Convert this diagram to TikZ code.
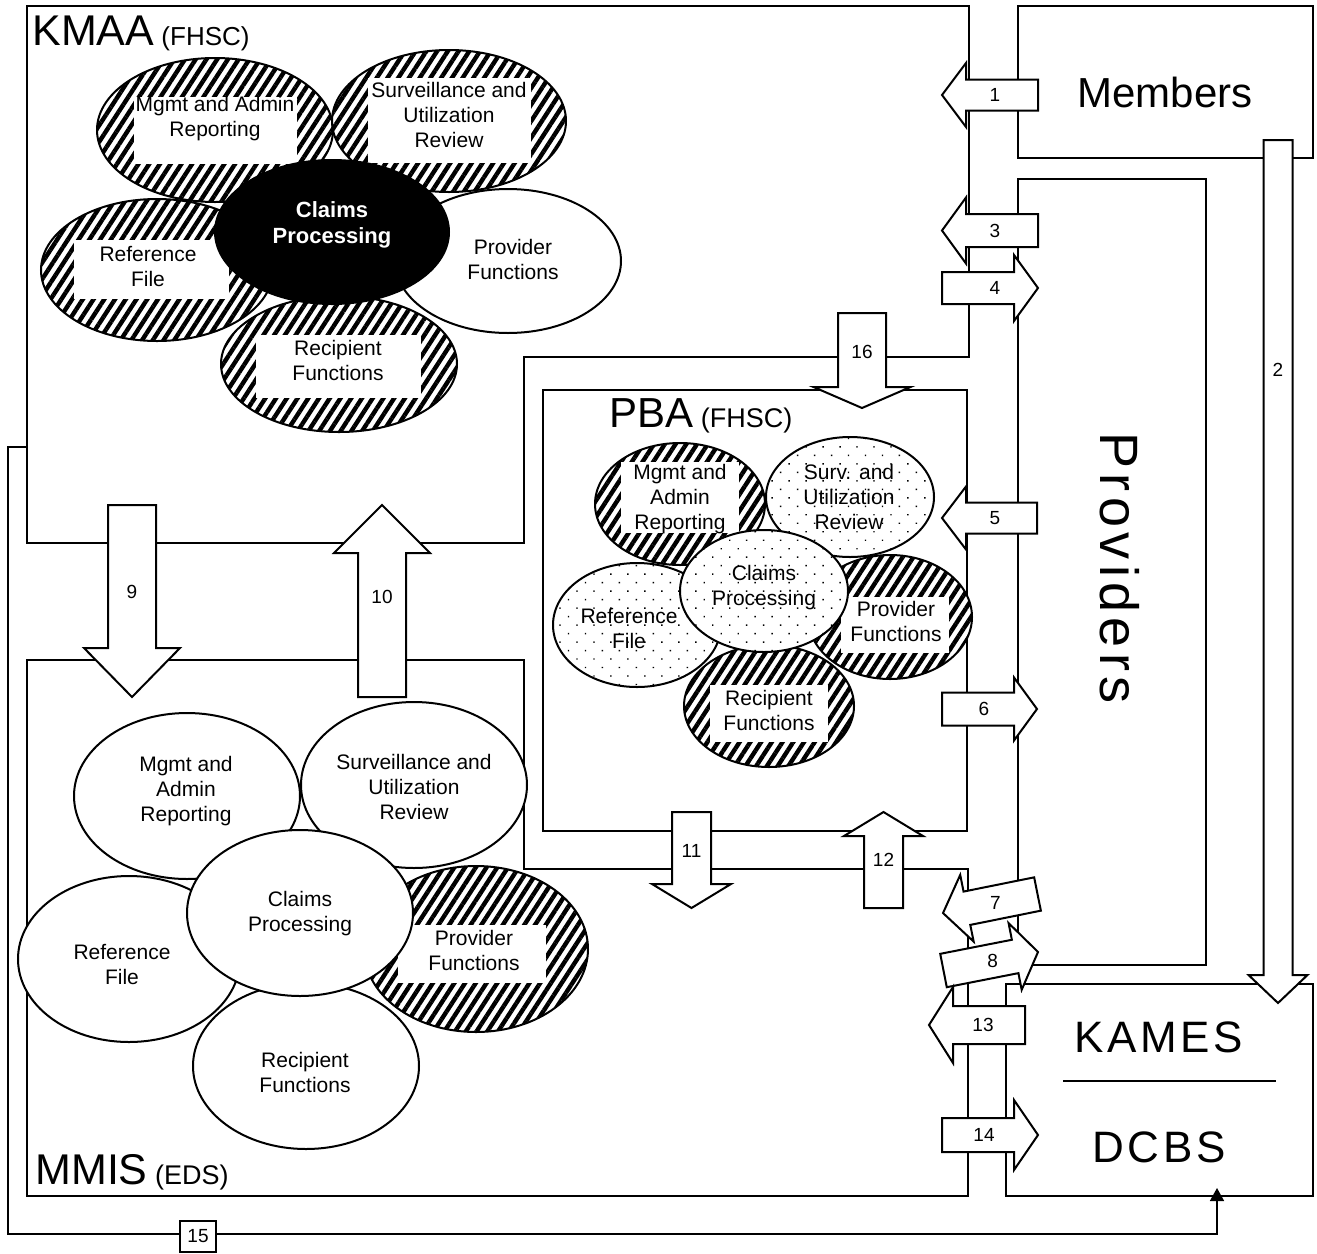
\documentclass[tikz,border=0pt]{standalone}
\usepackage{fontspec}
\setmainfont{Liberation Sans}
\newfontfamily\spacedten[LetterSpace=10]{Liberation Sans}
\newfontfamily\spacedeight[LetterSpace=8]{Liberation Sans}
\usetikzlibrary{shapes.geometric, patterns.meta, arrows.meta}

% #1 name, #2 tail point, #3 angle, #4 length, #5 shaft half width,
% #6 head half width, #7 head length, #8 label distance from tail, #9 label
\newcommand\blockarrow[9]{%
  \begin{scope}[shift={#2}, rotate=#3]
    \draw[barrow] (0,-#5) -- ({#4-#7},-#5) -- ({#4-#7},-#6) -- (#4,0) -- ({#4-#7},#6) -- ({#4-#7},#5) -- (0,#5) -- cycle;
    \node[numtxt] (#1) at (#8,0) {#9};
  \end{scope}}

\tikzset{
  outline/.style={draw, line width=1pt, line join=miter},
  rectbox/.style 2 args={draw, line width=1pt, inner sep=0pt, outer sep=0pt, minimum width=#1pt, minimum height=#2pt},
  barrow/.style={draw, fill=white, line width=1pt, line join=miter},
  numtxt/.style={font=\fontsize{9.5}{11}\selectfont, inner sep=0pt},
  ell/.style 2 args={ellipse, draw, line width=1pt, minimum width=#1pt, minimum height=#2pt, inner sep=0pt, outer sep=0pt},
  hatch/.style={preaction={fill=white}, pattern={Lines[angle=57,distance=4.5pt,line width=2.2pt]}},
  dotfill/.style={preaction={fill=white}, pattern={Dots[radius=0.5pt,distance=6pt,angle=45]}},
  plainfill/.style={fill=white},
  blackfill/.style={fill=black},
  wbox/.style 2 args={fill=white, inner sep=0pt, minimum width=#1pt, minimum height=#2pt},
  etxt/.style={align=center, font=\fontsize{10.5}{12.5}\selectfont, inner sep=0pt},
  conn/.style={draw, line width=0.8pt},
}

\begin{document}
\begin{tikzpicture}[x=0.5pt, y=-0.5pt]
\useasboundingbox (0,0) rectangle (1317,1253);

% ---------- outer region outlines ----------
\draw[outline] (27,6) -- (969,6) -- (969,357) -- (524,357) -- (524,543) -- (27,543) -- cycle; % KMAA
\draw[outline] (27,660) -- (524,660) -- (524,869) -- (968,869) -- (968,1196) -- (27,1196) -- cycle; % MMIS
\node[rectbox={212}{220.5}] (pba) at (755,610.5) {};
\node[rectbox={147.5}{76}] (members) at (1165.5,82) {};
\node[rectbox={94}{393}] (providers) at (1112,572) {};
\node[rectbox={153.5}{106}] (kames) at (1159.5,1090) {};
\coordinate (sepl) at (1063,1081);
\coordinate (sepr) at (1276,1081);
\draw[outline] (sepl) -- (sepr);

% ---------- connector 15 ----------
\coordinate (k15) at (27,447);
\coordinate (d15) at (1217,1188);
\draw[conn, -{Triangle[width=7pt,length=6.5pt]}] (k15) -- (8,447) -- (8,1234) -- (1217,1234) -- (d15);
\node[draw, fill=white, line width=0.8pt, minimum width=18pt, minimum height=15.5pt, inner sep=0pt, numtxt] (n15) at (198,1236.5) {15};

% ---------- KMAA flower ----------
\node[ell={118}{72}, hatch] (kmgmt) at (215,130) {};
\node[wbox={81.5}{33.5}] (kmgmtb) at (215.5,130.5) {};
\node[etxt] (kmgmtt) at (215,119) {Mgmt and Admin\\Reporting};
\node[ell={117}{71}, hatch] (ksurv) at (449,121) {};
\node[wbox={81.5}{42.5}] (ksurvb) at (449.5,120.5) {};
\node[etxt] (ksurvt) at (449,115) {Surveillance and\\Utilization\\Review};
\node[ell={116}{71}, hatch] (kref) at (157,270) {};
\node[wbox={77.5}{29.5}] (krefb) at (151.5,269.5) {};
\node[etxt] (kreft) at (148,266) {Reference\\File};
\node[ell={118}{68}, hatch] (krec) at (339,364) {};
\node[wbox={82.5}{31.5}] (krecb) at (338.5,366.5) {};
\node[etxt] (krect) at (338,360) {Recipient\\Functions};
\node[ell={113}{72}, plainfill] (kprov) at (508,261) {};
\node[etxt] (kprovt) at (513,259) {Provider\\Functions};
\node[ell={117}{72}, blackfill] (kclaims) at (332,232) {};
\node[etxt, text=white, font=\bfseries\fontsize{11}{13}\selectfont] (kclaimst) at (332,225) {Claims\\Processing};

% ---------- PBA flower ----------
\node[ell={85}{61}, hatch] (pmgmt) at (680,504) {};
\node[wbox={59}{35.5}] (pmgmtb) at (680,497.5) {};
\node[etxt] (pmgmtt) at (680,499) {Mgmt and\\Admin\\Reporting};
\node[ell={84}{60}, dotfill] (psurv) at (850,497) {};
\node[etxt] (psurvt) at (849,497) {Surv. and\\Utilization\\Review};
\node[ell={84}{62}, dotfill] (pref) at (637,625) {};
\node[etxt] (preft) at (629,628) {Reference\\File};
\node[ell={82}{62}, hatch] (pprov) at (890,617) {};
\node[wbox={54}{28}] (pprovb) at (895,625) {};
\node[etxt] (pprovt) at (896,621) {Provider\\Functions};
\node[ell={85}{61}, hatch] (prec) at (769,706) {};
\node[wbox={59}{28.5}] (precb) at (769,713.5) {};
\node[etxt] (prect) at (769,710) {Recipient\\Functions};
\node[ell={84}{61}, dotfill] (pclaims) at (764,591) {};
\node[etxt] (pclaimst) at (764,588) {Claims\\Processing};

% ---------- MMIS flower ----------
\node[ell={112}{83}, hatch] (mprov) at (476,949) {};
\node[wbox={74}{29}] (mprovb) at (472,954) {};
\node[etxt] (mprovt) at (474,950) {Provider\\Functions};
\node[ell={113}{83}, plainfill] (mmgmt) at (187,796) {};
\node[etxt] (mmgmtt) at (186,791) {Mgmt and\\Admin\\Reporting};
\node[ell={113}{83}, plainfill] (msurv) at (414,785) {};
\node[etxt] (msurvt) at (414,787) {Surveillance and\\Utilization\\Review};
\node[ell={111}{83}, plainfill] (mref) at (129,959) {};
\node[etxt] (mreft) at (122,964) {Reference\\File};
\node[ell={113}{83}, plainfill] (mrec) at (306,1066) {};
\node[etxt] (mrect) at (305,1072) {Recipient\\Functions};
\node[ell={113}{83}, plainfill] (mclaims) at (300,913) {};
\node[etxt] (mclaimst) at (300,914) {Claims\\Processing};

% ---------- block arrows ----------
\blockarrow{a1}{(1038,95)}{180}{96}{15.5}{32}{24}{43}{1}
\blockarrow{a2}{(1278,140)}{-90}{863}{14.5}{29.5}{28}{230}{2}
\blockarrow{a3}{(1038,230.5)}{180}{96}{16.5}{33}{24}{43}{3}
\blockarrow{a4}{(942,288)}{0}{96}{16}{33}{24}{53}{4}
\blockarrow{a5}{(1037,518)}{180}{95}{15.5}{31.5}{24}{42}{5}
\blockarrow{a6}{(942,709)}{0}{95}{16.5}{31.5}{23}{42}{6}
\blockarrow{a7}{(1037.5,894)}{191.4}{96.4}{17}{34}{24.4}{43}{7}
\blockarrow{a8}{(943.5,970.5)}{11.1}{96.3}{17}{34}{23.3}{50}{8}
\blockarrow{a9}{(132,505)}{-90}{192}{24}{48}{49}{87}{9}
\blockarrow{a10}{(382,697)}{90}{192}{24}{48}{48}{100}{10}
\blockarrow{a11}{(691.5,812)}{-90}{96}{19.5}{39.5}{24}{39}{11}
\blockarrow{a12}{(883.5,908)}{90}{96}{19.5}{39.5}{24}{48}{12}
\blockarrow{a13}{(1025,1025)}{180}{96}{19}{38}{24}{42}{13}
\blockarrow{a14}{(942,1135)}{0}{96}{17}{35}{24}{42}{14}
\blockarrow{a16}{(862,313)}{-90}{95}{24}{48.5}{21}{39}{16}

% ---------- titles ----------
\node[anchor=base west, inner sep=0pt] (kmaat) at (32,45) {\fontsize{21.5}{24}\selectfont KMAA{\fontsize{13}{15}\selectfont\ (FHSC)}};
\node[anchor=base west, inner sep=0pt] (pbat) at (609,427) {\fontsize{21}{24}\selectfont PBA{\fontsize{13.5}{15}\selectfont\ (FHSC)}};
\node[anchor=base west, inner sep=0pt] (mmist) at (35,1184) {\fontsize{21.5}{24}\selectfont MMIS{\fontsize{13.5}{15}\selectfont\ (EDS)}};
\node[anchor=base, inner sep=0pt] (memberst) at (1165,107) {\fontsize{21}{24}\selectfont Members};
\node[anchor=base west, rotate=-90, inner sep=0pt] (providerst) at (1100,432) {\spacedten\fontsize{27}{30}\selectfont Providers};
\node[anchor=base, inner sep=0pt] (kamest) at (1159,1052) {\spacedeight\fontsize{22}{24}\selectfont KAMES};
\node[anchor=base, inner sep=0pt] (dcbst) at (1159,1162) {\spacedeight\fontsize{22}{24}\selectfont DCBS};
\end{tikzpicture}
\end{document}
